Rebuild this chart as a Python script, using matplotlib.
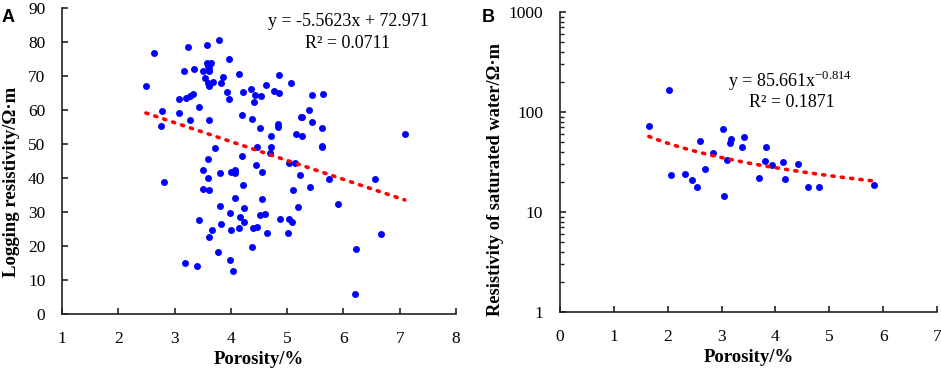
import matplotlib.pyplot as plt
from matplotlib.ticker import FixedLocator, NullFormatter, LogLocator
import numpy as np

# Panel A: porosity (%) vs logging resistivity (ohm.m)
poro_a = [2.63, 2.49, 3.24, 3.58, 3.79, 3.97, 3.17, 3.35, 3.50, 3.58, 3.64, 3.60, 3.62, 3.62,
          3.54, 3.68, 3.59, 3.62, 3.82, 3.86, 4.15, 3.93, 3.97, 4.22, 4.36, 4.42, 4.54, 4.41,
          4.62, 4.77, 4.85, 4.85, 5.06, 5.45, 5.63, 3.07, 3.21, 3.27, 3.33, 3.44, 2.78, 3.08,
          2.75, 3.27, 3.61, 4.20, 4.38, 4.52, 4.83, 4.83, 5.39, 5.24, 5.27, 5.44, 5.62, 4.72,
          5.16, 5.27, 7.09, 3.71, 4.47, 4.72, 5.62, 5.62, 4.69, 4.20, 3.59, 4.45, 5.03, 5.14,
          3.51, 3.81, 4.00, 4.07, 4.08, 4.56, 5.22, 5.74, 6.56, 3.59, 2.82, 3.51, 3.62, 4.22,
          4.07, 4.56, 5.10, 5.41, 5.91, 5.19, 3.81, 4.23, 3.99, 4.16, 4.23, 3.83, 4.15, 4.00,
          3.44, 3.67, 3.61, 4.51, 4.60, 4.40, 4.46, 4.64, 4.88, 5.03, 5.09, 5.01, 4.37, 3.77,
          3.99, 4.04, 3.19, 3.40, 6.23, 6.66, 6.21]
res_a = [76.9, 67.0, 78.6, 79.1, 80.5, 75.0, 71.4, 72.1, 71.4, 73.7, 73.7, 73.0, 72.3, 71.6,
         69.4, 68.2, 67.8, 67.0, 67.8, 69.7, 70.6, 65.4, 63.3, 65.3, 66.1, 64.4, 64.1, 62.4,
         67.4, 65.6, 65.1, 70.3, 67.8, 64.3, 64.8, 63.3, 63.4, 64.2, 64.8, 60.8, 59.6, 59.0,
         55.3, 57.2, 57.2, 58.5, 57.3, 54.7, 55.9, 55.0, 60.0, 58.0, 58.0, 56.4, 54.7, 52.3,
         53.0, 52.3, 52.8, 48.9, 49.2, 49.2, 49.5, 49.0, 47.3, 46.5, 45.5, 43.9, 44.4, 44.3,
         42.4, 41.5, 41.7, 42.3, 41.4, 41.7, 40.9, 39.8, 39.7, 40.0, 38.7, 36.8, 36.4, 38.0,
         34.1, 33.7, 36.4, 37.4, 32.5, 31.6, 31.9, 31.1, 29.6, 28.4, 27.0, 26.6, 25.3, 24.6,
         27.7, 24.8, 22.6, 29.1, 29.4, 25.4, 25.6, 23.9, 27.9, 27.9, 27.1, 23.9, 19.7, 18.3,
         15.9, 12.7, 14.9, 14.1, 19.0, 23.4, 5.8]

# Panel B: porosity (%) vs resistivity of saturated water (ohm.m)
poro_b = [1.65, 2.02, 2.07, 2.33, 2.45, 2.54, 2.60, 2.70, 2.84, 3.03, 3.04, 3.10, 3.15,
          3.17, 3.38, 3.41, 3.69, 3.80, 3.83, 3.93, 4.14, 4.17, 4.42, 4.61, 4.81, 5.84]
res_b = [72.4, 166, 23.4, 24.2, 20.9, 17.9, 51.3, 26.7, 38.9, 67.1, 14.4, 33.4, 49.4,
         53.3, 45.0, 55.8, 22.0, 32.1, 45.0, 29.5, 31.6, 21.2, 30.4, 17.9, 17.9, 18.6]

# fitted trend lines (coefficients as printed on the chart)
lin_slope, lin_icpt = -5.5623, 72.971
pow_coef, pow_exp = 85.661, -0.814

serif = 'Liberation Serif'
dot_color = '#0000ff'
trend_color = '#ff0000'

fig = plt.figure(figsize=(9.41, 3.72), dpi=100)
ax_a = fig.add_axes([0.0659, 0.1559, 0.4187, 0.8226])
ax_b = fig.add_axes([0.5951, 0.1613, 0.4006, 0.8065])


def style_axes(ax):
    for side in ['top', 'right']:
        ax.spines[side].set_visible(False)
    for side in ['left', 'bottom']:
        ax.spines[side].set_linewidth(1.2)
        ax.spines[side].set_color('#222222')
    ax.tick_params(axis='both', which='major', direction='in', length=4.5, width=1.2,
                   labelsize=12.5, pad=12, color='#222222')
    ax.tick_params(axis='both', which='minor', direction='in', length=3, width=1.0,
                   color='#222222')
    for lbl in ax.get_xticklabels() + ax.get_yticklabels():
        lbl.set_fontfamily(serif)


# ---- panel A
ax_a.scatter(poro_a, res_a, s=25, color=dot_color, zorder=3, linewidths=0)
xa = np.array([min(poro_a), max(poro_a)])
ax_a.plot(xa, lin_slope * xa + lin_icpt, color=trend_color, linewidth=2.6,
          linestyle=(0, (0.6, 2.0)), dash_capstyle='round', zorder=4)
ax_a.set_xlim(1, 8)
ax_a.set_ylim(0, 90)
ax_a.set_xticks(range(1, 9))
ax_a.set_yticks(range(0, 91, 10))
style_axes(ax_a)
ax_a.set_xlabel('Porosity/%', fontfamily=serif, fontweight='bold', fontsize=13.5, labelpad=3)
ax_a.set_ylabel('Logging resistivity/Ω·m', fontfamily=serif, fontweight='bold',
                fontsize=13.5, va='center')
ax_a.yaxis.set_label_coords(-0.129, 0.431)
ax_a.text(6.08, 85.9, 'y = -5.5623x + 72.971', fontfamily=serif, fontsize=13,
          ha='center', va='center')
ax_a.text(6.08, 79.6, 'R² = 0.0711', fontfamily=serif, fontsize=13,
          ha='center', va='center')
fig.text(0.002, 0.975, 'A', fontfamily='Liberation Sans', fontweight='bold',
         fontsize=13, ha='left', va='top')

# ---- panel B
ax_b.scatter(poro_b, res_b, s=25, color=dot_color, zorder=3, linewidths=0)
xb = np.linspace(min(poro_b), max(poro_b), 60)
ax_b.plot(xb, pow_coef * xb ** pow_exp, color=trend_color, linewidth=2.6,
          linestyle=(0, (0.6, 2.0)), dash_capstyle='round', zorder=4)
ax_b.set_yscale('log')
ax_b.set_xlim(0, 7)
ax_b.set_ylim(1, 1000)
ax_b.set_xticks(range(0, 8))
ax_b.yaxis.set_major_locator(FixedLocator([1, 10, 100, 1000]))
ax_b.set_yticklabels(['1', '10', '100', '1000'])
ax_b.yaxis.set_minor_locator(LogLocator(base=10, subs=np.arange(2, 10)))
ax_b.yaxis.set_minor_formatter(NullFormatter())
style_axes(ax_b)
ax_b.set_xlabel('Porosity/%', fontfamily=serif, fontweight='bold', fontsize=13.5, labelpad=3)
ax_b.set_ylabel('Resistivity of saturated water/Ω·m', fontfamily=serif, fontweight='bold',
                fontsize=13.2, va='center')
ax_b.yaxis.set_label_coords(-0.172, 0.44)
ax_b.text(4.27, 205, 'y = 85.661x$^{\\mathregular{-0.814}}$', fontfamily=serif, fontsize=13,
          ha='center', va='center')
ax_b.text(4.3, 124, 'R² = 0.1871', fontfamily=serif, fontsize=13,
          ha='center', va='center')
fig.text(0.512, 0.975, 'B', fontfamily='Liberation Sans', fontweight='bold',
         fontsize=13, ha='left', va='top')

fig.savefig('out.png', dpi=100)
